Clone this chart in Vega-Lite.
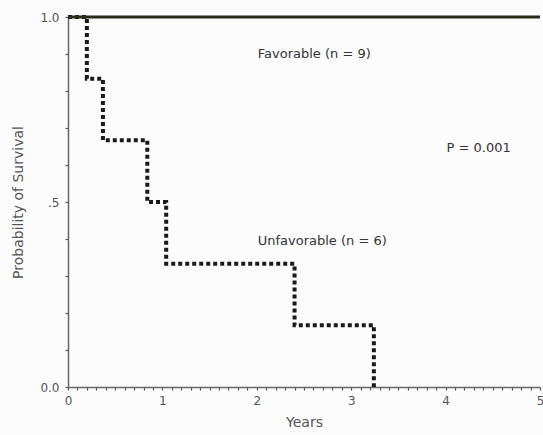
{
  "$schema": "https://vega.github.io/schema/vega-lite/v6.json",
  "width": 472,
  "height": 370,
  "autosize": {"type": "none"},
  "padding": {"left": 68, "top": 17, "right": 3, "bottom": 48},
  "background": "#fbfcfb",
  "config": {
    "view": {"stroke": null},
    "font": "DejaVu Sans",
    "axis": {
      "domainColor": "#666666",
      "domainWidth": 1.5,
      "tickColor": "#555555",
      "tickSize": 3,
      "tickWidth": 1.2,
      "labelColor": "#555555",
      "labelFont": "DejaVu Sans",
      "labelFontSize": 12,
      "titleFont": "DejaVu Sans",
      "titleFontSize": 14,
      "titleFontWeight": "normal",
      "titleColor": "#555555",
      "grid": false
    }
  },
  "datasets": {
    "unfav": [
      {"t": 0, "s": 1.0},
      {"t": 0.2, "s": 0.833},
      {"t": 0.37, "s": 0.667},
      {"t": 0.84, "s": 0.5},
      {"t": 1.04, "s": 0.333},
      {"t": 2.4, "s": 0.167},
      {"t": 3.24, "s": 0.0}
    ],
    "fav": [
      {"t": 0, "s": 1.0},
      {"t": 5, "s": 1.0}
    ],
    "labels": [
      {"t": 2.01, "s": 0.9, "label": "Favorable (n = 9)"},
      {"t": 4.01, "s": 0.645, "label": "P = 0.001"},
      {"t": 2.01, "s": 0.395, "label": "Unfavorable (n = 6)"}
    ]
  },
  "layer": [
    {
      "data": {"name": "unfav"},
      "mark": {"type": "line", "interpolate": "step-after", "strokeDash": [4, 3], "strokeWidth": 4, "strokeCap": "butt", "color": "#1a1a1a", "clip": false},
      "encoding": {
        "x": {
          "field": "t", "type": "quantitative",
          "scale": {"domain": [0, 5], "nice": false, "zero": false},
          "axis": {
            "title": "Years",
            "tickCount": 100,
            "values": [0,0.1,0.2,0.3,0.4,0.5,0.6,0.7,0.8,0.9,1,1.1,1.2,1.3,1.4,1.5,1.6,1.7,1.8,1.9,2,2.1,2.2,2.3,2.4,2.5,2.6,2.7,2.8,2.9,3,3.1,3.2,3.3,3.4,3.5,3.6,3.7,3.8,3.9,4,4.1,4.2,4.3,4.4,4.5,4.6,4.7,4.8,4.9,5],
            "labelExpr": "abs(datum.value - round(datum.value)) < 0.001 ? format(datum.value, 'd') : ''",
            "labelPadding": 5,
            "titlePadding": 9,
            "labelFlush": false,
            "labelOverlap": false
          }
        },
        "y": {
          "field": "s", "type": "quantitative",
          "scale": {"domain": [0, 1], "nice": false},
          "axis": {
            "title": "Probability of Survival",
            "tickCount": 50,
            "values": [0,0.1,0.2,0.3,0.4,0.5,0.6,0.7,0.8,0.9,1],
            "labelExpr": "datum.value == 0 ? '0.0' : datum.value == 1 ? '1.0' : abs(datum.value - 0.5) < 0.001 ? '.5' : ''",
            "labelPadding": 6,
            "titlePadding": 14,
            "labelFlush": false,
            "labelOverlap": false
          }
        }
      }
    },
    {
      "data": {"name": "fav"},
      "mark": {"type": "line", "strokeWidth": 3, "color": "#2b2b1e", "clip": false},
      "encoding": {
        "x": {"field": "t", "type": "quantitative"},
        "y": {"field": "s", "type": "quantitative"}
      }
    },
    {
      "data": {"name": "labels"},
      "mark": {"type": "text", "align": "left", "baseline": "middle", "font": "DejaVu Sans", "fontSize": 13, "color": "#333333"},
      "encoding": {
        "x": {"field": "t", "type": "quantitative"},
        "y": {"field": "s", "type": "quantitative"},
        "text": {"field": "label"}
      }
    }
  ]
}
